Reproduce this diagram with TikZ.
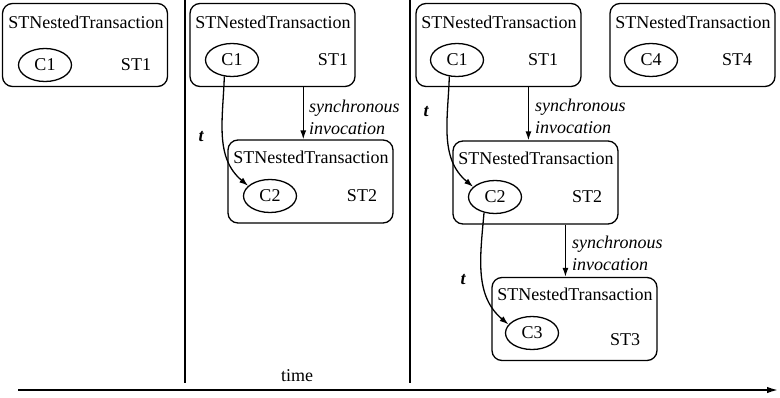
\documentclass[tikz,border=0pt]{standalone}
\usepackage{fontspec}
\setmainfont{Liberation Serif}
\usetikzlibrary{arrows.meta,calc,shapes.geometric}
\begin{document}
\begin{tikzpicture}[x=1pt,y=-1pt,
  every node/.style={font=\fontsize{18}{22}\selectfont, inner sep=0pt},
  txbox/.style={draw, rounded corners=10pt, line width=1.3pt, minimum width=165pt, minimum height=83pt},
  comp/.style={draw, ellipse, line width=1.3pt, minimum width=53pt, minimum height=33pt},
  lbl/.style={font=\fontsize{18}{22}\selectfont\itshape, align=left, anchor=west},
  tl/.style={font=\fontsize{18}{22}\selectfont\bfseries\itshape},
  arr/.style={-{Latex[length=9pt,width=6pt]}, line width=1.3pt}
]
\useasboundingbox (0,0) rectangle (780,397);
% separators
\coordinate (s1t) at (185,0); \coordinate (s1b) at (185,383);
\coordinate (s2t) at (410,0); \coordinate (s2b) at (410,383);
\draw[line width=1.3pt] (s1t) -- (s1b);
\draw[line width=1.3pt] (s2t) -- (s2b);
% time axis
\coordinate (ta) at (18,390); \coordinate (tb) at (778,390);
\draw[-{Latex[length=11pt,width=6.5pt]}, line width=1.6pt] (ta) -- (tb);
\node (time) at (297,376) {time};

% column 1
\node[txbox] (A) at (85,45) {};
\node (At) at (86,22) {STNestedTransaction};
\node[comp] (Ac) at (45,65) {C1};
\node (As) at (136,65) {ST1};

% column 2
\node[txbox] (B) at (272.5,45) {};
\node (Bt) at (273,22) {STNestedTransaction};
\node[comp] (Bc) at (232,60) {C1};
\node (Bs) at (333,60) {ST1};

\node[txbox] (C) at (310.5,181.5) {};
\node (Ct) at (311,157) {STNestedTransaction};
\node[comp] (Cc) at (270,196) {C2};
\node (Cs) at (362,196) {ST2};

\coordinate (B0) at ($(B.south west)!0.685!(B.south east)$);
\draw[arr] (B0) -- (B0 |- C.north);
\node[lbl] (Bl) at (309,117) {synchronous\\invocation};
\draw[arr] (Bc.245) to[out=-92, in=140] (Cc.155);
\node[tl] (Btl) at (201,137) {t};

% column 3
\node[txbox] (D) at (498.5,45) {};
\node (Dt) at (499,22) {STNestedTransaction};
\node[comp] (Dc) at (457,60) {C1};
\node (Ds) at (543,60) {ST1};

\node[txbox] (E) at (692.5,45) {};
\node (Et) at (693,22) {STNestedTransaction};
\node[comp] (Ec) at (651,60) {C4};
\node (Es) at (737,60) {ST4};

\node[txbox] (F) at (535.5,182.5) {};
\node (Ft) at (536,158) {STNestedTransaction};
\node[comp] (Fc) at (495,197) {C2};
\node (Fs) at (587,197) {ST2};

\node[txbox] (G) at (574.5,319) {};
\node (Gt) at (575,294) {STNestedTransaction};
\node[comp] (Gc) at (532,333) {C3};
\node (Gs) at (625,340) {ST3};

\coordinate (D0) at ($(D.south west)!0.68!(D.south east)$);
\draw[arr] (D0) -- (D0 |- F.north);
\node[lbl] (Dl) at (535,116) {synchronous\\invocation};
\draw[arr] (Dc.245) to[out=-92, in=140] (Fc.155);
\node[tl] (Dtl) at (426,112) {t};

\coordinate (F0) at ($(F.south west)!0.68!(F.south east)$);
\draw[arr] (F0) -- (F0 |- G.north);
\node[lbl] (Fl) at (572,253) {synchronous\\invocation};
\draw[arr] (Fc.235) to[out=-95, in=140] (Gc.160);
\node[tl] (Ftl) at (463,280) {t};
\end{tikzpicture}
\end{document}
